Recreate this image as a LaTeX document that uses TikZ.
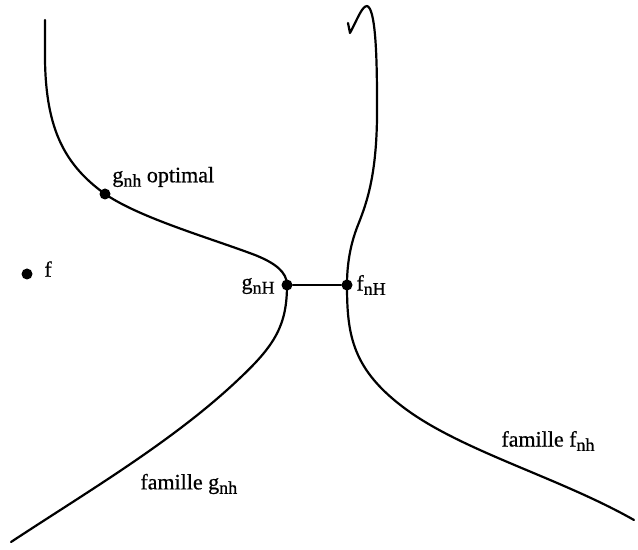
\documentclass[tikz,border=0pt]{standalone}
\usepackage{fontspec}
\setmainfont{Liberation Serif}
\newfontfamily\labfont[BoldFont={Liberation Serif},BoldFeatures={FakeBold=0.6}]{Liberation Serif}
\newcommand{\lsub}[1]{\raisebox{-2.2pt}{\fontsize{9}{9}\selectfont #1}}
\begin{document}
\begin{tikzpicture}[x=0.5pt,y=-0.5pt,
  curve/.style={line width=1.1pt,line cap=round,line join=round},
  dot/.style={circle,fill=black,inner sep=0pt,minimum size=5.5pt},
  lab/.style={inner sep=1pt,font=\labfont\bfseries\fontsize{11}{13}\selectfont}]
\useasboundingbox (0,0) rectangle (638,550);
% dots
\node[dot] (f) at (27,274) {};
\node[dot] (gopt) at (105,194) {};
\node[dot] (gH) at (287,285) {};
\node[dot] (fH) at (347,285) {};
% free ends
\coordinate (gtop) at (45,20);
\coordinate (gbot) at (11,542);
\coordinate (ftop) at (348,23);
\coordinate (fbot) at (634,520);
% left curve
\draw[curve] (gtop) -- (45,60) .. controls (46,130) and (65,165) .. (gopt.center)
  .. controls (140,218) and (210,238) .. (255,255)
  .. controls (275,263) and (287,272) .. (gH.center)
  .. controls (287,325) and (275,345) .. (240,378)
  .. controls (175,440) and (90,490) .. (gbot);
% right curve
\draw[curve] (ftop) -- (350,33) .. controls (357,20) and (362,6) .. (367,6)
  .. controls (375,8) and (377,50) .. (377,100)
  .. controls (378,170) and (368,200) .. (358,225)
  .. controls (350,245) and (347,265) .. (fH.center)
  .. controls (347,335) and (352,370) .. (407,410)
  .. controls (465,452) and (560,478) .. (fbot);
% bridge
\draw[curve] (gH) -- (fH);
% labels
\node[lab,anchor=west] at (42,269) {f};
\node[lab,anchor=west] at (110,177) {g\lsub{nh} optimal};
\node[lab,anchor=east] at (277,286) {g\lsub{nH}};
\node[lab,anchor=west] at (354,285) {f\lsub{nH}};
\node[lab,anchor=west] at (499,441) {famille f\lsub{nh}};
\node[lab,anchor=west] at (138,484) {famille g\lsub{nh}};
\end{tikzpicture}
\end{document}
